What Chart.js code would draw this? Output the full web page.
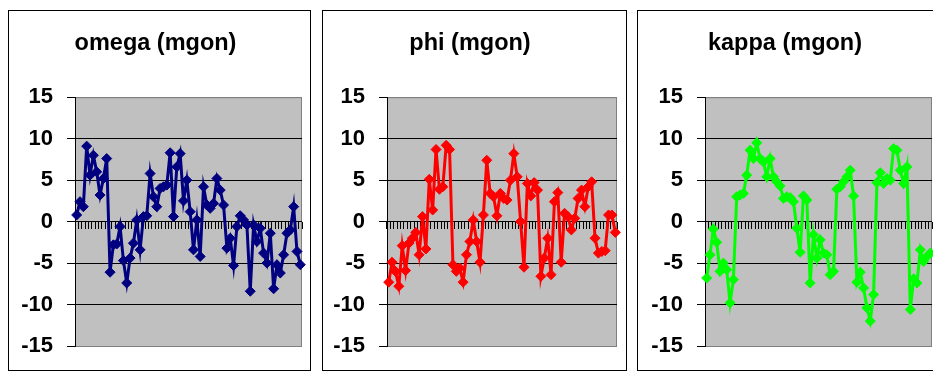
<!DOCTYPE html>
<html>
<head>
<meta charset="utf-8">
<script src="https://cdn.jsdelivr.net/npm/chart.js@4.4.1/dist/chart.umd.min.js"></script>
<style>
    html, body { margin: 0; padding: 0; background: #fff; overflow: hidden; }
    body { width: 933px; height: 372px; position: relative; }
    .panel { position: absolute; top: 10px; height: 361px; border: 1px solid #000; box-sizing: border-box; background: #fff; }
    .panel canvas { display: block; }
</style>
</head>
<body>
<div class="panel" style="left:8px;width:303px"><canvas id="omegaChart" width="301" height="359"></canvas></div>
<div class="panel" style="left:322px;width:305px"><canvas id="phiChart" width="303" height="359"></canvas></div>
<div class="panel" style="left:637px;width:305px"><canvas id="kappaChart" width="303" height="359"></canvas></div>
<script>
var frames = [1, 2, 3, 4, 5, 6, 7, 8, 9, 10, 11, 12, 13, 14, 15, 16, 17, 18, 19, 20,
    21, 22, 23, 24, 25, 26, 27, 28, 29, 30, 31, 32, 33, 34, 35, 36, 37, 38, 39, 40,
    41, 42, 43, 44, 45, 46, 47, 48, 49, 50, 51, 52, 53, 54, 55, 56, 57, 58, 59, 60,
    61, 62, 63, 64, 65, 66, 67, 68];

var omega = [0.8, 2.4, 1.8, 9.1, 5.6, 8.0, 6.0, 3.2, 5.2, 7.6,
    -6.1, -2.8, -2.7, -0.6, -4.7, -7.4, -4.4, -2.6, 0.2, -3.4,
    0.6, 0.7, 5.8, 3.0, 1.8, 4.0, 4.2, 4.4, 8.3, 0.6,
    6.6, 8.2, 2.5, 5.0, 1.2, -3.4, 0.2, -4.2, 4.2, 2.0,
    1.6, 2.2, 5.2, 3.8, 2.0, -3.2, -2.0, -5.3, -0.6, 0.7,
    0.2, -0.4, -8.4, -0.4, -2.4, -0.8, -3.8, -5.0, -1.4, -8.1,
    -5.2, -6.2, -4.0, -1.4, -1.0, 1.8, -3.6, -5.2];

var phi = [-7.3, -4.9, -6.0, -7.8, -2.9, -5.9, -2.6, -2.0, -1.3, -4.0,
    0.6, -3.3, 5.1, 1.4, 8.7, 3.9, 4.2, 9.2, 8.7, -5.2,
    -6.0, -5.6, -7.3, -4.0, -2.4, 0.2, -2.4, -4.9, 0.8, 7.4,
    3.4, 3.0, 0.7, 3.4, 2.8, 2.6, 5.0, 8.2, 5.4, 0.0,
    -5.5, 4.6, 3.1, 4.7, 3.8, -6.6, -4.4, -2.0, -6.4, 2.4,
    3.5, -4.9, 1.0, 0.6, -1.0, 0.4, 2.8, 3.8, 1.8, 4.2,
    4.8, -2.0, -3.8, -3.6, -3.5, 0.8, 0.8, -1.3];

var kappa = [-6.8, -4.0, -0.9, -2.5, -6.0, -5.0, -5.8, -9.8, -7.0, 3.0,
    3.2, 3.4, 5.6, 8.6, 7.6, 9.5, 7.6, 7.2, 5.4, 7.6,
    5.4, 4.8, 4.3, 2.8, 3.0, 2.9, 2.4, -0.8, -3.7, 3.1,
    2.6, -7.4, -1.6, -4.4, -2.2, -3.8, -4.0, -6.4, -6.0, 3.9,
    4.2, 4.8, 5.4, 6.2, 3.1, -7.3, -6.1, -8.0, -10.4, -12.0,
    -8.8, 4.7, 5.9, 4.6, 5.2, 5.0, 8.8, 8.6, 6.2, 4.6,
    6.6, -10.6, -6.9, -7.4, -3.4, -4.8, -4.2, -3.8];

var yTicks = [-15, -10, -5, 0, 5, 10, 15];

var fontFamily = '"Liberation Sans", Arial, Helvetica, sans-serif';

// grey plot area like the old spreadsheet charts
var plotBackground = {
    id: 'plotBackground',
    beforeDraw: function (chart) {
        var a = chart.chartArea;
        var ctx = chart.ctx;
        ctx.save();
        ctx.fillStyle = '#c0c0c0';
        ctx.fillRect(a.left, a.top, a.right - a.left, a.bottom - a.top);
        ctx.strokeStyle = '#808080';
        ctx.lineWidth = 1;
        ctx.strokeRect(a.left + 0.5, a.top + 0.5, a.right - a.left - 1, a.bottom - a.top);
        ctx.restore();
    }
};

function makeChart(id, title, values, color, axisWidth, padRight) {
    var el = document.getElementById(id);
    return new Chart(el, {
        type: 'line',
        data: {
            labels: frames,
            datasets: [{
                label: title,
                data: values,
                borderColor: color,
                backgroundColor: color,
                borderWidth: 3,
                pointStyle: 'rectRot',
                pointRadius: 5,
                pointBorderWidth: 1,
                pointBorderColor: color,
                pointBackgroundColor: color,
                tension: 0,
                fill: false,
                clip: false
            }]
        },
        options: {
            responsive: false,
            animation: false,
            events: [],
            layout: {
                padding: { left: 0, right: padRight, top: 0, bottom: 24 }
            },
            plugins: {
                legend: { display: false },
                tooltip: { enabled: false },
                title: {
                    display: true,
                    text: title,
                    color: '#000',
                    font: { family: fontFamily, size: 23.5, weight: 'bold' },
                    padding: { top: 18, bottom: 40 }
                }
            },
            scales: {
                x: {
                    type: 'category',
                    position: { y: 0 },
                    offset: true,
                    border: { display: false },
                    grid: {
                        offset: true,
                        drawOnChartArea: false,
                        drawTicks: true,
                        tickLength: 7,
                        color: '#000',
                        tickColor: '#000'
                    },
                    ticks: { display: false }
                },
                y: {
                    type: 'linear',
                    min: -15,
                    max: 15,
                    afterBuildTicks: function (scale) {
                        scale.ticks = yTicks.map(function (v) { return { value: v }; });
                    },
                    afterFit: function (scale) {
                        scale.width = axisWidth;
                        // label padding should not push the plot area around
                        scale.paddingTop = 0;
                        scale.paddingBottom = 0;
                    },
                    border: { display: true, color: '#000', width: 1 },
                    grid: {
                        color: function (ctx) {
                            return Math.abs(ctx.tick.value) === 15 ? '#808080' : '#000';
                        },
                        tickColor: '#000',
                        tickLength: 8,
                        lineWidth: 1
                    },
                    ticks: {
                        color: '#000',
                        padding: 14,
                        font: { family: fontFamily, size: 22, weight: 'bold' }
                    }
                }
            }
        },
        plugins: [plotBackground]
    });
}

makeChart('omegaChart', 'omega (mgon)', omega, '#000080', 66, 8);
makeChart('phiChart', 'phi (mgon)', phi, '#ff0000', 64, 9);
makeChart('kappaChart', 'kappa (mgon)', kappa, '#00ff00', 67, 9);
</script>
</body>
</html>
